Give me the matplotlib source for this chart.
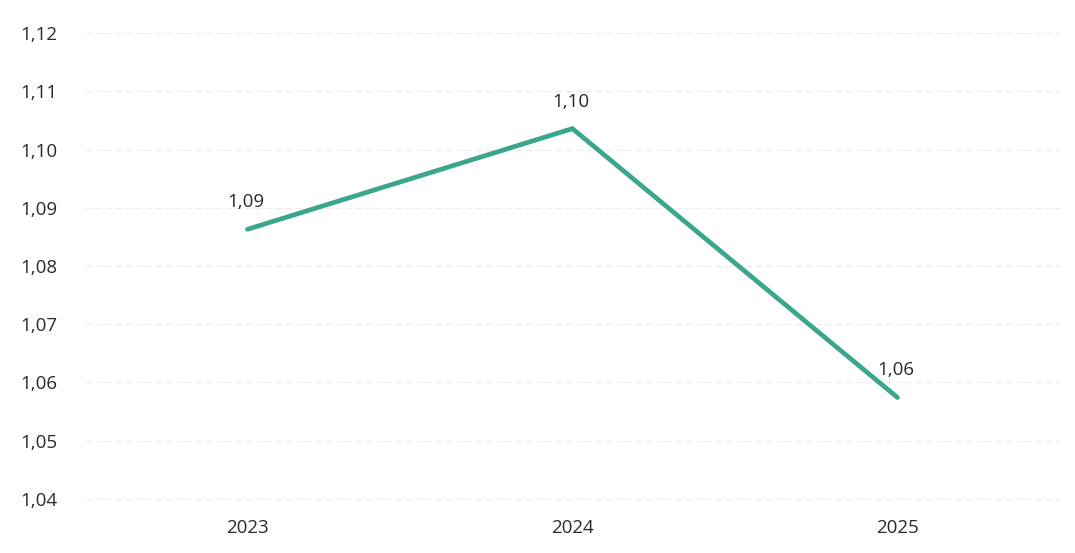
import matplotlib.pyplot as plt

# Values
years = ['2023', '2024', '2025']
values = [1.0863, 1.1036, 1.0574]
point_labels = ['1,09', '1,10', '1,06']
yticks = [1.04, 1.05, 1.06, 1.07, 1.08, 1.09, 1.10, 1.11, 1.12]

plt.rcParams['font.family'] = ['Open Sans', 'DejaVu Sans']

fig = plt.figure(figsize=(10.75, 5.53), dpi=100)
ax = fig.add_axes([0.079, 0.096, 0.907, 0.844])

x = list(range(len(years)))
ax.plot(x, values, color='#3aa68c', linewidth=3.4, solid_capstyle='round', solid_joinstyle='miter')

for xi, v, lab in zip(x, values, point_labels):
    ax.annotate(lab, (xi, v), xytext=(-1, 13), textcoords='offset points',
                ha='center', va='bottom', fontsize=13.5, color='#2a2a2a')

ax.set_xlim(-0.5, 2.5)
ax.set_ylim(1.0398, 1.12)
ax.set_xticks(x)
ax.set_xticklabels(years)
ax.set_yticks(yticks)
ax.set_yticklabels([('%.2f' % t).replace('.', ',') for t in yticks])
ax.tick_params(length=0, labelsize=13.5, labelcolor='#2a2a2a')
ax.tick_params(axis='y', pad=20)
ax.tick_params(axis='x', pad=14)

ax.grid(axis='y', color='#ececec', linewidth=0.8, linestyle=(0, (6, 3)))
ax.set_axisbelow(True)
for s in ax.spines.values():
    s.set_visible(False)

plt.savefig('out.png')
